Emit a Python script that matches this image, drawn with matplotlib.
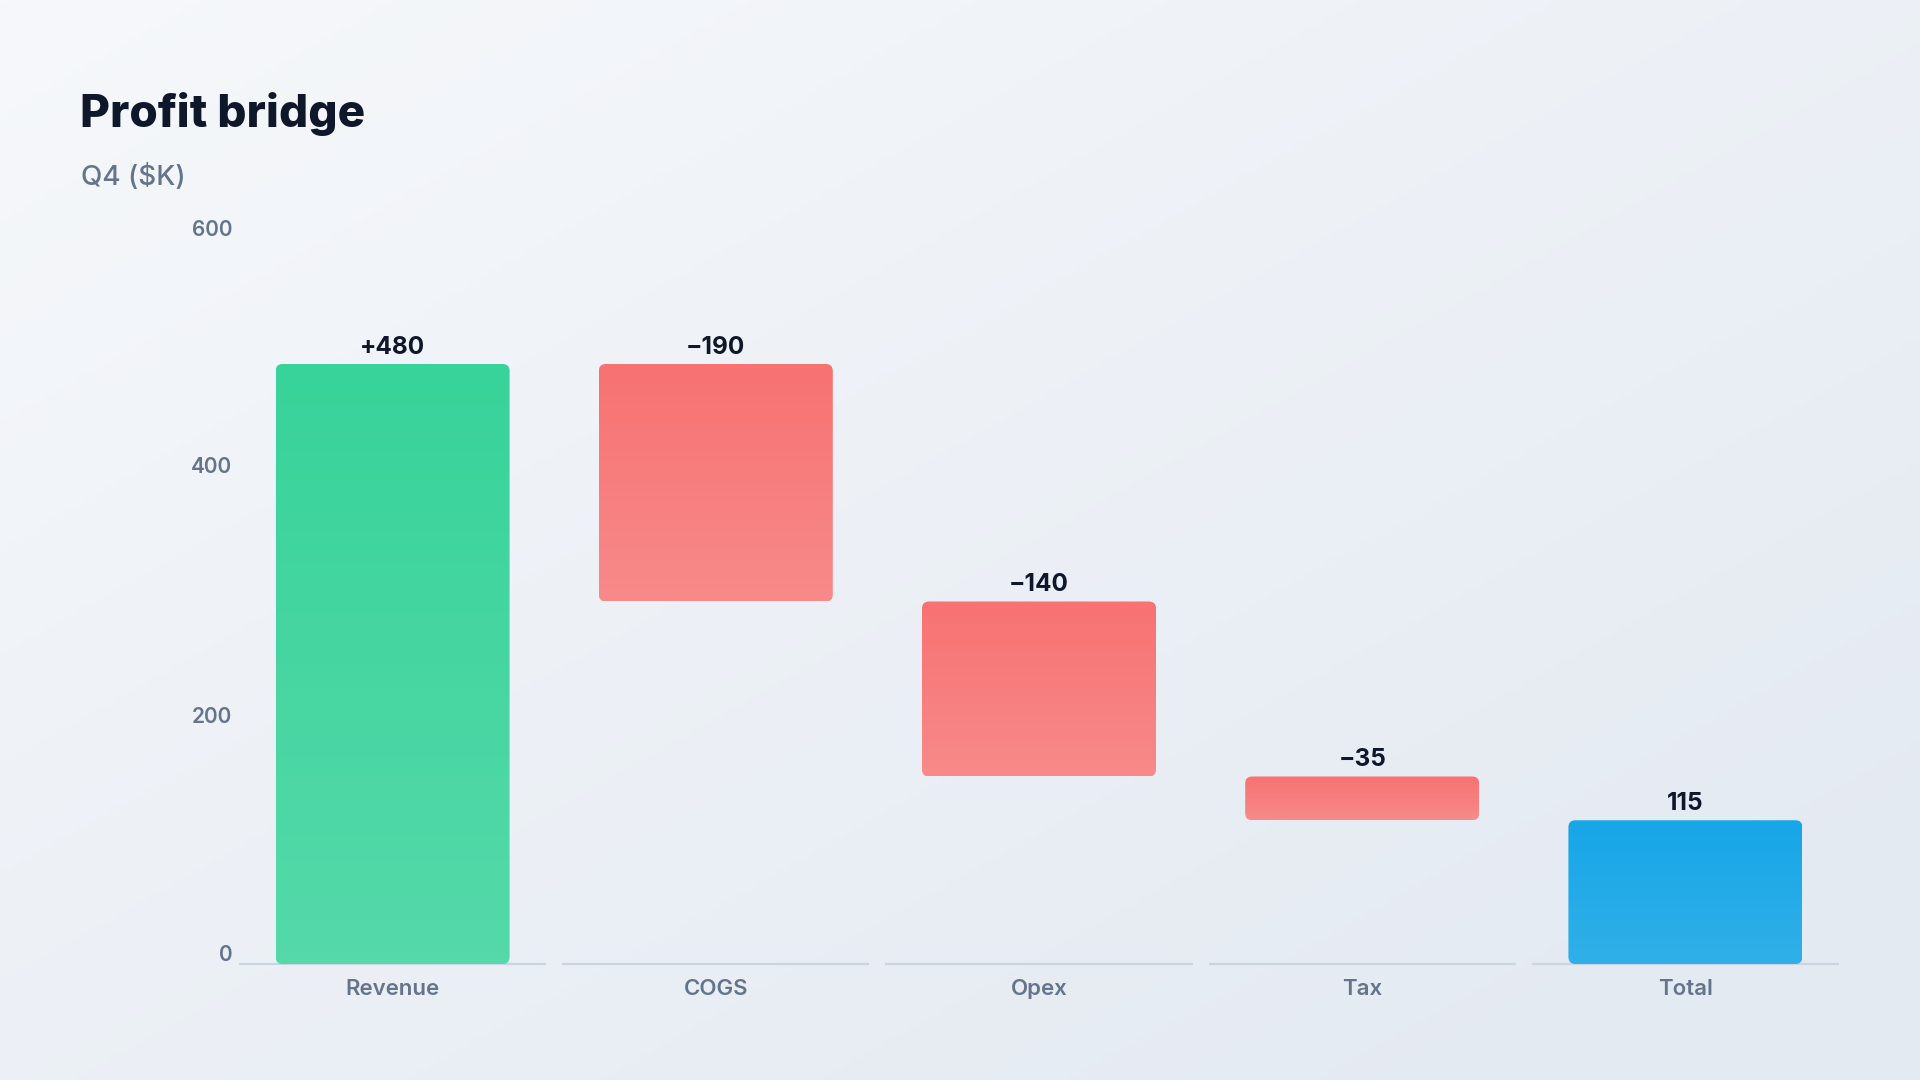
import numpy as np
import matplotlib.pyplot as plt
from matplotlib.patches import FancyBboxPatch
from matplotlib.colors import to_rgb

# --- data ---
categories = ["Revenue", "COGS", "Opex", "Tax", "Total"]
changes = [480, -190, -140, -35]
total = 115
value_labels = ["+480", "\u2212190", "\u2212140", "\u221235", "115"]
y_ticks = [0, 200, 400, 600]

plt.rcParams["font.family"] = ["Inter", "DejaVu Sans"]

W, H, DPI = 19.2, 10.8, 100
fig = plt.figure(figsize=(W, H), dpi=DPI)

# --- background gradient ---
bg = fig.add_axes([0, 0, 1, 1], zorder=-10)
gx, gy = np.meshgrid(np.linspace(0, 1, 300), np.linspace(0, 1, 200))
t = np.clip(0.55 * gx + 0.55 * gy, 0, 1)[..., None]
c0 = np.array(to_rgb("#f6f8fb"))
c1 = np.array(to_rgb("#e4eaf2"))
bg.imshow(c0 + (c1 - c0) * t, extent=[0, 1, 0, 1], aspect="auto", origin="upper")
bg.axis("off")

# --- titles ---
fig.text(80 / 1920, 1 - 127 / 1080, "Profit bridge", fontsize=33, fontweight="heavy",
         color="#0f172a", ha="left", va="baseline")
fig.text(81 / 1920, 1 - 185 / 1080, "Q4 ($K)", fontsize=20, fontweight="medium",
         color="#64748b", ha="left", va="baseline")

# --- plot area ---
left, right = 231 / 1920, 1847 / 1920
bottom, top = 1 - 964 / 1080, 1 - 214 / 1080
ax = fig.add_axes([left, bottom, right - left, top - bottom])
ax.set_xlim(-0.5, len(categories) - 0.5)
ax.set_ylim(0, 600)
ax.patch.set_alpha(0)
for s in ax.spines.values():
    s.set_visible(False)
ax.set_yticks([])
ax.set_xticks(range(len(categories)))
ax.set_xticklabels(categories, fontsize=16, fontweight="semibold", color="#64748b")
ax.tick_params(axis="x", length=0, pad=11)

# waterfall geometry
bottoms, tops, kinds = [], [], []
running = 0
for i, d in enumerate(changes):
    if i == 0:
        bottoms.append(0); tops.append(d); kinds.append("up")
    else:
        bottoms.append(running + d); tops.append(running); kinds.append("down")
    running += d
bottoms.append(0); tops.append(total); kinds.append("total")

grads = {
    "up": ("#38d39a", "#55d9aa"),
    "down": ("#f87272", "#f78a8a"),
    "total": ("#17a6e7", "#30b0e8"),
}

ax_w_px = (right - left) * W * DPI
ax_h_px = (top - bottom) * H * DPI
x_per_px = len(categories) / ax_w_px
y_per_px = 600 / ax_h_px
radius_px = 7
bar_w = 0.724

for i, cat in enumerate(categories):
    # baseline segment under each category
    ax.plot([i - 0.475, i + 0.475], [0, 0], color="#cbd5e1", lw=1.6,
            solid_capstyle="butt", zorder=1, clip_on=False)
    b, tp = bottoms[i], tops[i]
    x0 = i - bar_w / 2
    patch = FancyBboxPatch((x0, b), bar_w, tp - b,
                           boxstyle=f"round,pad=0,rounding_size={radius_px * x_per_px}",
                           mutation_aspect=y_per_px / x_per_px,
                           facecolor="none", edgecolor="none", zorder=2)
    ax.add_patch(patch)
    ctop, cbot = (np.array(to_rgb(c)) for c in grads[kinds[i]])
    tt = np.linspace(0, 1, 64)[:, None, None]
    img = ctop + (cbot - ctop) * tt
    im = ax.imshow(img, extent=[x0, x0 + bar_w, b, tp], aspect="auto",
                   origin="upper", interpolation="bilinear", zorder=2)
    im.set_clip_path(patch)
    ax.annotate(value_labels[i], xy=(i, tp), xytext=(0, 7.5), textcoords="offset points",
                ha="center", va="baseline", fontsize=17.5, fontweight="bold",
                color="#0f172a")

ax.set_xlim(-0.5, len(categories) - 0.5)
ax.set_ylim(0, 600)

# y labels (end labels nudged inward like the reference)
for v in y_ticks:
    if v == y_ticks[0]:
        va, dy = "baseline", 2.5
    elif v == y_ticks[-1]:
        va, dy = "top", -4
    else:
        va, dy = "center", -2.5
    ax.annotate(str(v), xy=(0, v), xycoords=("axes fraction", "data"),
                xytext=(1, dy), textcoords="offset points", ha="right", va=va,
                fontsize=15, fontweight="semibold", color="#64748b",
                annotation_clip=False)

fig.savefig("out.png", dpi=DPI)
